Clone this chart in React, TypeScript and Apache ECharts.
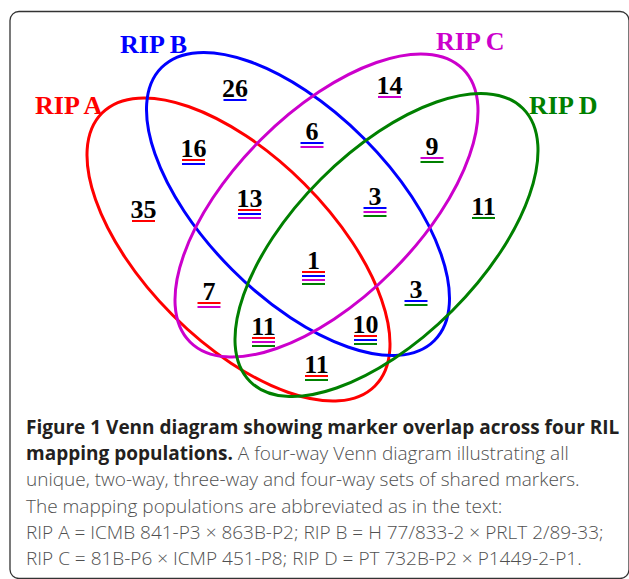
import React, { useEffect, useRef } from "react";
import * as echarts from "echarts";

const W = 629;
const H = 579;

// Sets
const setNames = ["RIP A", "RIP B", "RIP C", "RIP D"];
const setKeys = ["A", "B", "C", "D"];
const setColors = ["#ff0000", "#0000ff", "#cc00cc", "#008000"];

// Layout of the ellipses (pixel units of the hidden axes)
const ellipseCenters = [
  [238.5, 249.5],
  [298, 204],
  [326.5, 205.5],
  [386.5, 245],
];
const ellipseAxes = [193, 93];
const ellipseAngles = [45, 45, -45, -45]; // clockwise, degrees
const setLabelPos = [
  [35, 114],
  [120, 53],
  [436, 50],
  [529, 114],
];

// Regions and counts
const regionSets = ["A", "B", "C", "D", "AB", "BC", "CD", "AD", "AC", "BD", "ABC", "BCD", "ACD", "ABD", "ABCD"];
const regionCounts = [35, 26, 14, 11, 16, 6, 9, 11, 7, 3, 13, 3, 11, 10, 1];
const regionLabelPos = [
  [143.5, 218],
  [235, 97],
  [389.5, 94],
  [483.5, 215],
  [193.5, 157],
  [312, 140],
  [432, 155],
  [316.5, 373],
  [209, 300],
  [416, 298],
  [249.5, 207],
  [375, 205],
  [263.5, 335],
  [365.5, 333],
  [313.5, 269],
];

// Caption
const captionBold1 = "Figure 1 Venn diagram showing marker overlap across four RIL";
const captionBold2 = "mapping populations.";
const captionRegular = [
  " A four-way Venn diagram illustrating all",
  "unique, two-way, three-way and four-way sets of shared markers.",
  "The mapping populations are abbreviated as in the text:",
  "RIP A = ICMB 841-P3 \u00d7 863B-P2; RIP B = H 77/833-2 \u00d7 PRLT 2/89-33;",
  "RIP C = 81B-P6 \u00d7 ICMP 451-P8; RIP D = PT 732B-P2 \u00d7 P1449-2-P1.",
];
const captionBaselines = [434, 460, 486, 513, 539, 565];

const SERIF = '"Liberation Serif", "Times New Roman", serif';
const SANS = '"Open Sans", "Noto Sans", sans-serif';
const CAP_SIZE = 19;
const BOLD_COLOR = "#231f20";
const REG_COLOR = "#505050";

export default function App() {
  const ref = useRef<HTMLDivElement>(null);

  useEffect(() => {
    if (!ref.current) return;
    const chart = echarts.init(ref.current, null, { renderer: "svg" });

    const capY = (b: number) => b - 0.388 * CAP_SIZE;

    const graphics: any[] = [
      {
        type: "rect",
        shape: { x: 10, y: 11.5, width: 619, height: 567, r: 9 },
        style: { fill: "none", stroke: "#333333", lineWidth: 1.3 },
        silent: true,
      },
      {
        type: "text",
        x: 26,
        y: capY(captionBaselines[0]),
        style: {
          text: captionBold1,
          fontFamily: SANS,
          fontWeight: "bold",
          fontSize: CAP_SIZE,
          fill: BOLD_COLOR,
          align: "left",
          verticalAlign: "middle",
        },
      },
      {
        type: "text",
        x: 26,
        y: capY(captionBaselines[1]),
        style: {
          text: "{b|" + captionBold2 + "}{r|" + captionRegular[0] + "}",
          align: "left",
          verticalAlign: "middle",
          rich: {
            b: { fontFamily: SANS, fontWeight: "bold", fontSize: CAP_SIZE, fill: BOLD_COLOR },
            r: { fontFamily: SANS, fontWeight: 300, fontSize: CAP_SIZE, fill: REG_COLOR },
          },
        },
      },
      ...captionRegular.slice(1).map((t, i) => ({
        type: "text",
        x: 26,
        y: capY(captionBaselines[i + 2]),
        style: {
          text: t,
          fontFamily: SANS,
          fontWeight: 300,
          fontSize: CAP_SIZE,
          fill: REG_COLOR,
          align: "left",
          verticalAlign: "middle",
        },
      })),
    ];

    const ellipseData = ellipseCenters.map((c, i) => [c[0], c[1], i]);
    const setLabelData = setLabelPos.map((p, i) => [p[0], p[1], i]);
    const regionData = regionLabelPos.map((p, i) => [p[0], p[1], regionCounts[i], i]);

    chart.setOption({
      animation: false,
      backgroundColor: "#ffffff",
      grid: { left: 0, right: 0, top: 0, bottom: 0 },
      xAxis: { type: "value", min: 0, max: W, show: false },
      yAxis: { type: "value", min: 0, max: H, inverse: true, show: false },
      graphic: graphics,
      series: [
        {
          type: "custom",
          name: "sets",
          coordinateSystem: "cartesian2d",
          clip: false,
          silent: true,
          data: ellipseData,
          renderItem: (params: any, api: any) => {
            const i = api.value(2);
            const p = api.coord([api.value(0), api.value(1)]);
            const s = api.size([ellipseAxes[0], ellipseAxes[1]]);
            return {
              type: "ellipse",
              x: p[0],
              y: p[1],
              rotation: (-ellipseAngles[i] * Math.PI) / 180,
              shape: { cx: 0, cy: 0, rx: s[0], ry: s[1] },
              style: { fill: "none", stroke: setColors[i], lineWidth: 3 },
            };
          },
        },
        {
          type: "custom",
          name: "setLabels",
          coordinateSystem: "cartesian2d",
          clip: false,
          silent: true,
          data: setLabelData,
          renderItem: (params: any, api: any) => {
            const i = api.value(2);
            const p = api.coord([api.value(0), api.value(1)]);
            return {
              type: "text",
              x: p[0],
              y: p[1] - 9,
              style: {
                text: setNames[i],
                fontFamily: SERIF,
                fontWeight: "bold",
                fontSize: 26,
                fill: setColors[i],
                align: "left",
                verticalAlign: "middle",
              },
            };
          },
        },
        {
          type: "custom",
          name: "regions",
          coordinateSystem: "cartesian2d",
          clip: false,
          silent: true,
          data: regionData,
          renderItem: (params: any, api: any) => {
            const idx = api.value(3);
            const count = api.value(2);
            const p = api.coord([api.value(0), api.value(1)]);
            const keys = regionSets[idx].split("");
            const children: any[] = [
              {
                type: "text",
                x: p[0],
                y: p[1] - 9,
                style: {
                  text: String(count),
                  fontFamily: SERIF,
                  fontWeight: "bold",
                  fontSize: 26,
                  fill: "#000000",
                  align: "center",
                  verticalAlign: "middle",
                },
              },
            ];
            keys.forEach((k, j) => {
              const si = setKeys.indexOf(k);
              children.push({
                type: "rect",
                shape: { x: p[0] - 11.5, y: p[1] + 2 + j * 4, width: 23, height: 2 },
                style: { fill: setColors[si] },
              });
            });
            return { type: "group", children };
          },
        },
      ],
    });

    return () => chart.dispose();
  }, []);

  return (
    <div
      ref={ref}
      style={{ position: "fixed", left: 0, top: 0, width: W, height: H, background: "#fff" }}
    />
  );
}
